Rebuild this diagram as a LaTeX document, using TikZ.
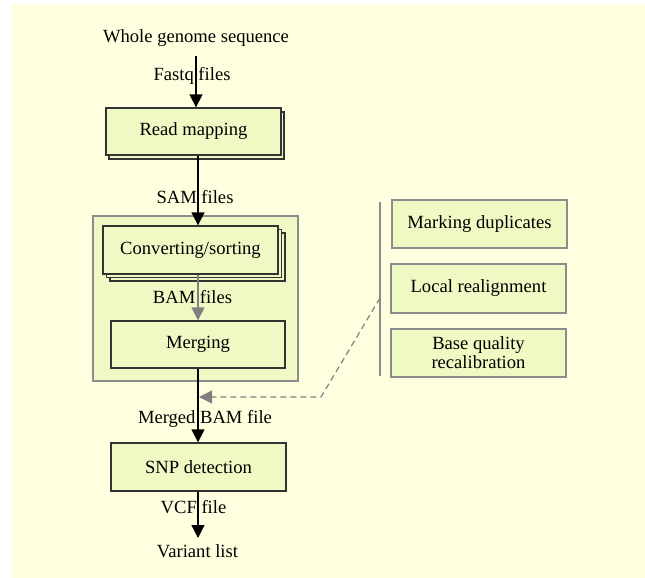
\documentclass[tikz,border=0pt]{standalone}
\usepackage{fontspec}
\setmainfont{Liberation Serif}
\usetikzlibrary{arrows.meta}
\definecolor{bg}{HTML}{FFFFE0}
\definecolor{boxfill}{HTML}{F0F8C4}
\definecolor{edge}{HTML}{333333}
\definecolor{grayedge}{HTML}{8C8C8C}
\definecolor{arrgray}{HTML}{808080}
\begin{document}
\begin{tikzpicture}[x=1pt,y=-1pt,
  font=\fontsize{18.6}{22}\selectfont,
  mainbox/.style={draw=edge, fill=boxfill, line width=1.3pt, minimum width=175pt, minimum height=48pt, inner sep=0pt},
  sidebox/.style={draw=grayedge, fill=boxfill, line width=1.3pt, minimum width=175pt, minimum height=48pt, inner sep=0pt, align=center},
  groupbox/.style={draw=grayedge, fill=boxfill, line width=1.3pt, minimum width=205pt, minimum height=165pt, inner sep=0pt},
  lbl/.style={anchor=base, inner sep=0pt},
  arr/.style={line width=1.3pt, draw=black, -{Triangle[length=13pt,width=13pt]}},
  grayarr/.style={line width=1.3pt, draw=arrgray, -{Triangle[length=13pt,width=13pt]}},
  dasharr/.style={line width=1.2pt, draw=arrgray, dash pattern=on 6pt off 4pt, -{Triangle[length=13pt,width=13pt]}},
  plainline/.style={line width=1.3pt, draw=grayedge}
]
\useasboundingbox (0,0) rectangle (645,578);
\fill[bg] (12,4) rectangle (645,578);

% group box
\node[groupbox] (group) at (195.5,298.5) {};

% read mapping with shadow
\node[mainbox, minimum height=47pt] (rmshadow) at (196.5,135.5) {};
\node[mainbox, minimum height=47pt] (readmap) at (193.5,131.5) {Read mapping};

% converting with two shadows
\node[mainbox] (convshadowb) at (197.5,257) {};
\node[mainbox] (convshadowa) at (194,253.5) {};
\node[mainbox] (conv) at (190.5,250) {Converting/sorting};

\node[mainbox, minimum width=174pt, minimum height=47pt] (merge) at (198,344.5) {Merging};
\node[mainbox] (snp) at (198.5,467) {SNP detection};

% side boxes
\node[sidebox] (markdup) at (479.5,224) {Marking duplicates};
\node[sidebox, minimum height=49pt] (realign) at (478.5,288.5) {Local realignment};
\node[sidebox] (bqsr) at (478.5,353) {Base quality\\[-3pt]recalibration};

% coordinates
\coordinate (ax) at (198,0);
\coordinate (wtop) at (196,56);
\coordinate (vtop) at (380,202);
\coordinate (vbot) at (380,376);
\coordinate (vmid) at (380,298);
\coordinate (dbend) at (321,397);
\coordinate (dtip) at (199,397);
\coordinate (vend) at (198,538);

% connectors
\draw[arr] (wtop) -- (wtop |- readmap.north);
\draw[arr] (readmap.south -| ax) -- (conv.north -| ax);
\draw[grayarr] (conv.south -| ax) -- (merge.north -| ax);
\draw[arr] (merge.south -| ax) -- (snp.north -| ax);
\draw[arr] (snp.south -| ax) -- (vend);
\draw[plainline] (vtop) -- (vbot);
\draw[dasharr] (vmid) -- (dbend) -- (dtip);

% texts
\node[lbl] (title) at (196,43) {Whole genome sequence};
\node[lbl] (fastq) at (192,81) {Fastq files};
\node[lbl] (sam) at (195,203) {SAM files};
\node[lbl] (bam) at (192.5,303) {BAM files};
\node[lbl] (mbam) at (205,423) {Merged BAM file};
\node[lbl] (vcf) at (193.5,513) {VCF file};
\node[lbl] (variant) at (197.5,557) {Variant list};
\end{tikzpicture}
\end{document}
